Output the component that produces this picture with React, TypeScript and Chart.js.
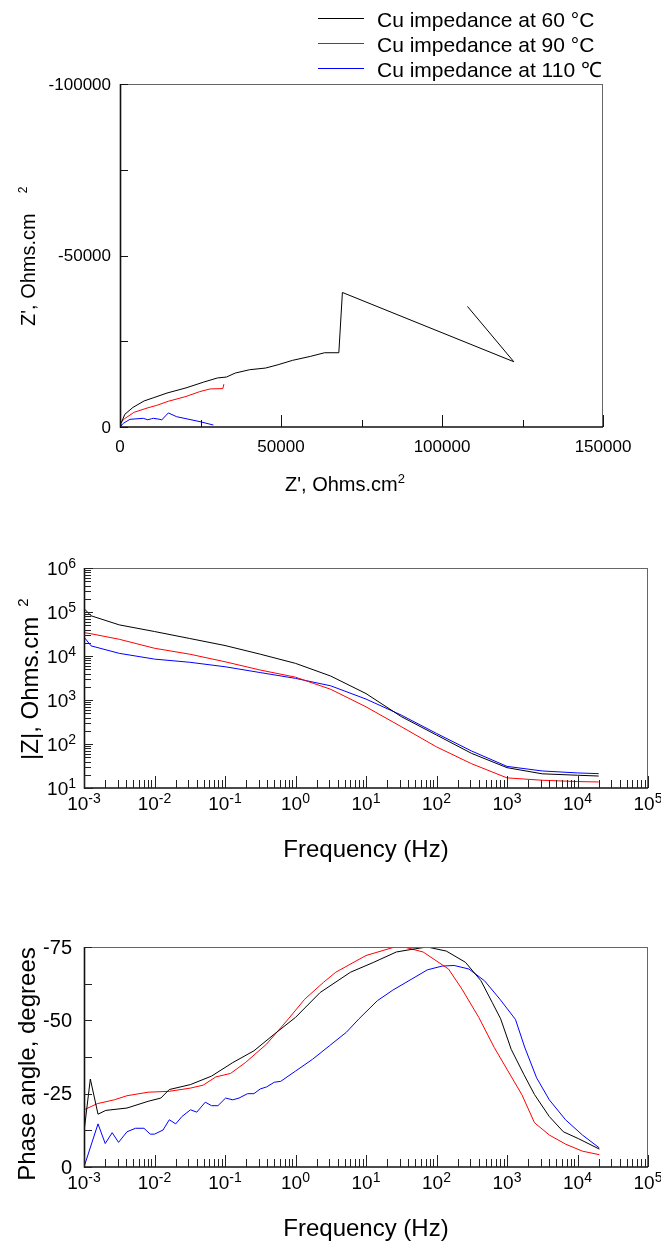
import { useEffect, useRef } from 'react';
import { Chart, registerables } from 'chart.js';
Chart.register(...registerables);

const FONT = '"Liberation Sans", Arial, Helvetica, sans-serif';
const PAGE_W = 661;
const PAGE_H = 1245;

// ---------- legend ----------
const legendLabels = ['Cu impedance at 60 °C', 'Cu impedance at 90 °C', 'Cu impedance at 110 ℃'];
const seriesColors = ['#000000', '#ff0000', '#0000ff'];

// ---------- Nyquist (Z' , Z'') ----------
const nyqRe60 = [50, 300, 1500, 4000, 7500, 10300, 14600, 20500, 26000, 30270, 33040, 35810, 40240, 45230, 49110, 53550, 59090, 63530, 67960, 69070, 122300, 107900];
const nyqIm60 = [-200, -1000, -3700, -5700, -7600, -8500, -9900, -11400, -13100, -14300, -14560, -15730, -16700, -17190, -18160, -19420, -20580, -21650, -21650, -39220, -19030, -35150];
const nyqRe90 = [0, 1440, 4400, 8700, 11420, 15000, 20500, 24720, 28000, 31930, 32260];
const nyqIm90 = [-1100, -2430, -4300, -5600, -6310, -7500, -8900, -10300, -11100, -11200, -12500];
const nyqRe110 = [0, 1040, 3100, 7240, 8650, 9760, 10350, 12420, 12940, 15010, 17600, 24840, 28980];
const nyqIm110 = [0, -1080, -2240, -2530, -2100, -2400, -2530, -2240, -2040, -4100, -3000, -1550, -580];
const nyqXTicks = [0, 50000, 100000, 150000];
const nyqXMinor = [25000, 75000, 125000];
const nyqYTicks = [0, -50000, -100000];
const nyqYMinor = [-25000, -75000];

// ---------- Bode |Z| ----------
const magFreq = [0.001, 0.00126, 0.00316, 0.01, 0.0316, 0.1, 0.316, 1, 3.16, 10, 31.6, 100, 316, 1000, 3160, 10000, 20000];
const mag60 = [120000, 82000, 51000, 36000, 25000, 17300, 11000, 6800, 3500, 1400, 420, 160, 61, 29, 21, 19.5, 18.7];
const mag90 = [34000, 32000, 24000, 15000, 11000, 7400, 4800, 3300, 1750, 700, 248, 86, 35.5, 17, 15, 14, 13.7];
const mag110 = [27000, 17000, 11500, 8500, 7200, 5700, 4200, 3100, 2100, 1050, 455, 174, 69, 31, 24.4, 22, 21.2];
const freqDecades = [-3, -2, -1, 0, 1, 2, 3, 4, 5];
const magDecades = [1, 2, 3, 4, 5, 6];

// ---------- Bode phase ----------
const phFreq60 = [0.001, 0.00123, 0.00158, 0.00204, 0.00407, 0.00813, 0.0123, 0.0162, 0.0324, 0.0646, 0.129, 0.257, 0.501, 1, 2.24, 6.03, 12.9, 26.9, 50.1, 74.1, 138, 257, 427, 617, 813, 1148, 1738, 2455, 3981, 6310, 10233, 20417];
const phase60 = [-12, -30, -18, -19.3, -20.1, -22.4, -23.5, -26.4, -28.1, -31.0, -35.6, -39.6, -45.3, -51, -59.5, -66.4, -69.8, -73.3, -74.4, -75, -73.6, -69.8, -63.5, -56.1, -50.5, -40.1, -31.5, -24.7, -17.2, -12.0, -9.7, -6.1];
const phFreq90 = [0.001, 0.00155, 0.00269, 0.00407, 0.00813, 0.0162, 0.0324, 0.049, 0.0741, 0.12, 0.195, 0.389, 0.794, 1.35, 2.51, 3.72, 10, 24, 34.7, 64.6, 148, 229, 398, 661, 1000, 1622, 2455, 3981, 6761, 11749, 20417];
const phase90 = [-19.5, -21.6, -22.9, -24.3, -25.5, -25.8, -26.9, -27.9, -30.7, -31.9, -35.6, -41.9, -50.5, -57.2, -63, -66.4, -72.1, -74.8, -75, -73.3, -67.5, -60.7, -51, -40.7, -33.3, -24.7, -15.1, -10.9, -7.8, -5.4, -4.2];
const phFreq110 = [0.001, 0.00158, 0.002, 0.00251, 0.00309, 0.00407, 0.00537, 0.00708, 0.00871, 0.01, 0.0132, 0.0162, 0.02, 0.0245, 0.0324, 0.0398, 0.0525, 0.0646, 0.0794, 0.102, 0.129, 0.158, 0.209, 0.257, 0.316, 0.389, 0.501, 0.617, 1, 1.74, 3.02, 5.25, 7.94, 14.5, 24, 44.7, 74.1, 120, 178, 288, 479, 794, 1318, 1778, 2630, 3981, 6761, 11749, 20417];
const phase110 = [0, -14.7, -8.0, -11.7, -8.4, -12.0, -13.2, -13.2, -11.2, -11.2, -12.6, -16.1, -14.7, -17.2, -19.5, -18.7, -22.1, -20.9, -20.9, -23.5, -22.9, -23.5, -25.0, -25.0, -26.6, -27.3, -28.9, -29.2, -32.7, -36.7, -41.3, -45.9, -50.5, -56.7, -60.3, -64.1, -67.2, -68.5, -68.7, -67.5, -63.5, -57.2, -50.3, -40.9, -30.4, -22.9, -16.1, -10.9, -6.5];
const phaseTicks = [0, -25, -50, -75];
const phaseMinor = [-12.5, -37.5, -62.5];

// ---------- helpers ----------
const pts = (xs: number[], ys: number[]) => xs.map((x, i) => ({ x, y: ys[i] }));
const ds = (xs: number[], ys: number[], i: number) => ({
  data: pts(xs, ys),
  borderColor: seriesColors[i],
  backgroundColor: seriesColors[i],
  borderWidth: 1,
  pointRadius: 0,
  showLine: true,
  tension: 0,
});

type Area = { left: number; top: number; right: number; bottom: number };

function frame(ctx: CanvasRenderingContext2D, a: Area) {
  ctx.save();
  ctx.strokeStyle = '#666';
  ctx.lineWidth = 1;
  ctx.beginPath();
  ctx.moveTo(a.left, a.top + 0.5);
  ctx.lineTo(a.right, a.top + 0.5);
  ctx.moveTo(a.right - 0.5, a.top);
  ctx.lineTo(a.right - 0.5, a.bottom);
  ctx.stroke();
  ctx.strokeStyle = '#111';
  ctx.lineWidth = 1.6;
  ctx.beginPath();
  ctx.moveTo(a.left + 0.5, a.top);
  ctx.lineTo(a.left + 0.5, a.bottom);
  ctx.lineTo(a.right, a.bottom);
  ctx.stroke();
  ctx.restore();
}

function xTick(ctx: CanvasRenderingContext2D, x: number, a: Area, len: number) {
  ctx.beginPath();
  ctx.moveTo(Math.round(x) + 0.5, a.bottom);
  ctx.lineTo(Math.round(x) + 0.5, a.bottom - len);
  ctx.stroke();
}
function yTick(ctx: CanvasRenderingContext2D, y: number, a: Area, len: number) {
  ctx.beginPath();
  ctx.moveTo(a.left, Math.round(y) + 0.5);
  ctx.lineTo(a.left + len, Math.round(y) + 0.5);
  ctx.stroke();
}

// "10" with exponent; align: 'center' or 'right'
function powLabel(ctx: CanvasRenderingContext2D, exp: number, x: number, baseY: number, align: 'center' | 'right') {
  const base = '10';
  const e = String(exp);
  ctx.font = `19px ${FONT}`;
  const wb = ctx.measureText(base).width;
  ctx.font = `14px ${FONT}`;
  const we = ctx.measureText(e).width;
  const total = wb + we;
  const x0 = align === 'center' ? x - total / 2 : x - total;
  ctx.textAlign = 'left';
  ctx.textBaseline = 'alphabetic';
  ctx.font = `19px ${FONT}`;
  ctx.fillText(base, x0, baseY);
  ctx.font = `14px ${FONT}`;
  ctx.fillText(e, x0 + wb, baseY - 7);
}

// rotated title: main text + superscript, reading upward, starting at yStart (bottom)
function rotTitle(ctx: CanvasRenderingContext2D, text: string, sup: string, size: number, baseX: number, yStart: number, gap: number) {
  ctx.save();
  ctx.translate(baseX, yStart);
  ctx.rotate(-Math.PI / 2);
  ctx.textAlign = 'left';
  ctx.textBaseline = 'alphabetic';
  ctx.font = `${size}px ${FONT}`;
  ctx.fillText(text, 0, 0);
  const w = ctx.measureText(text).width;
  if (sup) {
    ctx.font = `${Math.round(size * 0.62)}px ${FONT}`;
    ctx.fillText(sup, w + gap, -size * 0.42);
  }
  ctx.restore();
}

function logMinor(decs: number[]) {
  const out: number[] = [];
  for (let i = 0; i < decs.length - 1; i++) {
    for (let k = 2; k <= 9; k++) out.push(k * Math.pow(10, decs[i]));
  }
  return out;
}

// ---------- per-chart decoration plugins ----------
const nyquistDeco = {
  id: 'nyqDeco',
  afterDraw(chart: any) {
    const ctx: CanvasRenderingContext2D = chart.ctx;
    const a = chart.chartArea as Area;
    const xs = chart.scales.x, ys = chart.scales.y;
    frame(ctx, a);
    ctx.save();
    ctx.strokeStyle = '#111';
    ctx.lineWidth = 1;
    nyqXTicks.forEach((v) => xTick(ctx, xs.getPixelForValue(v), a, 12));
    nyqXMinor.forEach((v) => xTick(ctx, xs.getPixelForValue(v), a, 7));
    nyqYTicks.forEach((v) => yTick(ctx, ys.getPixelForValue(v), a, 8));
    nyqYMinor.forEach((v) => yTick(ctx, ys.getPixelForValue(v), a, 8));
    ctx.fillStyle = '#000';
    ctx.font = `17px ${FONT}`;
    ctx.textAlign = 'center';
    ctx.textBaseline = 'alphabetic';
    nyqXTicks.forEach((v) => ctx.fillText(String(v), xs.getPixelForValue(v), a.bottom + 25));
    ctx.textAlign = 'right';
    ctx.textBaseline = 'middle';
    nyqYTicks.forEach((v) => ctx.fillText(String(v), a.left - 9, ys.getPixelForValue(v) + 1));
    // x title
    ctx.textAlign = 'left';
    ctx.textBaseline = 'alphabetic';
    ctx.font = `20px ${FONT}`;
    const t = "Z', Ohms.cm";
    ctx.fillText(t, 285, a.bottom + 64);
    const tw = ctx.measureText(t).width;
    ctx.font = `13px ${FONT}`;
    ctx.fillText('2', 285 + tw, a.bottom + 56);
    // y title
    rotTitle(ctx, "Z', Ohms.cm", '2', 20, 35, 326, 20);
    // legend
    legendLabels.forEach((lab, i) => {
      const y = 18.5 + i * 25;
      ctx.strokeStyle = seriesColors[i];
      ctx.lineWidth = 1;
      ctx.beginPath();
      ctx.moveTo(318, y);
      ctx.lineTo(364, y);
      ctx.stroke();
      ctx.fillStyle = '#000';
      ctx.font = `21px ${FONT}`;
      ctx.textAlign = 'left';
      ctx.textBaseline = 'alphabetic';
      ctx.fillText(lab, 377, 26.5 + i * 25);
    });
    ctx.restore();
  },
};

function freqAxisDeco(ctx: CanvasRenderingContext2D, chart: any, a: Area) {
  const xs = chart.scales.x;
  ctx.strokeStyle = '#222';
  ctx.lineWidth = 1;
  freqDecades.forEach((d) => xTick(ctx, xs.getPixelForValue(Math.pow(10, d)), a, 12));
  logMinor(freqDecades).forEach((v) => xTick(ctx, xs.getPixelForValue(v), a, 8));
  ctx.fillStyle = '#000';
  freqDecades.forEach((d) => powLabel(ctx, d, xs.getPixelForValue(Math.pow(10, d)), a.bottom + 22, 'center'));
  ctx.font = `24px ${FONT}`;
  ctx.textAlign = 'center';
  ctx.textBaseline = 'alphabetic';
  ctx.fillText('Frequency (Hz)', (a.left + a.right) / 2, a.bottom + 69);
}

const magDeco = {
  id: 'magDeco',
  afterDraw(chart: any) {
    const ctx: CanvasRenderingContext2D = chart.ctx;
    const a = chart.chartArea as Area;
    const ys = chart.scales.y;
    frame(ctx, a);
    ctx.save();
    freqAxisDeco(ctx, chart, a);
    ctx.strokeStyle = '#222';
    magDecades.forEach((d) => yTick(ctx, ys.getPixelForValue(Math.pow(10, d)), a, 9));
    logMinor(magDecades).forEach((v) => yTick(ctx, ys.getPixelForValue(v), a, 7));
    ctx.fillStyle = '#000';
    magDecades.forEach((d) => powLabel(ctx, d, 76, ys.getPixelForValue(Math.pow(10, d)) + 7, 'right'));
    rotTitle(ctx, '|Z|, Ohms.cm', '2', 24, 38, 760, 10);
    ctx.restore();
  },
};

const phaseDeco = {
  id: 'phaseDeco',
  afterDraw(chart: any) {
    const ctx: CanvasRenderingContext2D = chart.ctx;
    const a = chart.chartArea as Area;
    const ys = chart.scales.y;
    frame(ctx, a);
    ctx.save();
    freqAxisDeco(ctx, chart, a);
    ctx.strokeStyle = '#222';
    phaseTicks.forEach((v) => yTick(ctx, ys.getPixelForValue(v), a, 8));
    phaseMinor.forEach((v) => yTick(ctx, ys.getPixelForValue(v), a, 8));
    ctx.fillStyle = '#000';
    ctx.font = `20px ${FONT}`;
    ctx.textAlign = 'right';
    ctx.textBaseline = 'middle';
    phaseTicks.forEach((v) => ctx.fillText(String(v), 72, ys.getPixelForValue(v) + 1));
    ctx.save();
    ctx.translate(35, 1064);
    ctx.rotate(-Math.PI / 2);
    ctx.font = `24px ${FONT}`;
    ctx.textAlign = 'center';
    ctx.textBaseline = 'alphabetic';
    ctx.fillText('Phase angle, degrees', 0, 0);
    ctx.restore();
    ctx.restore();
  },
};

function baseOptions(pad: { left: number; top: number; right: number; bottom: number }, x: any, y: any) {
  return {
    animation: false as const,
    responsive: false,
    devicePixelRatio: 1,
    events: [] as any[],
    layout: { padding: pad },
    plugins: { legend: { display: false }, tooltip: { enabled: false }, title: { display: false } },
    scales: { x: { ...x, display: false }, y: { ...y, display: false } },
  };
}

export default function App() {
  const r1 = useRef<HTMLCanvasElement>(null);
  const r2 = useRef<HTMLCanvasElement>(null);
  const r3 = useRef<HTMLCanvasElement>(null);

  useEffect(() => {
    const charts: Chart[] = [];
    // Nyquist: area left 120, top 84, right 603, bottom 427
    charts.push(
      new Chart(r1.current!, {
        type: 'scatter',
        data: { datasets: [ds(nyqRe60, nyqIm60, 0), ds(nyqRe90, nyqIm90, 1), ds(nyqRe110, nyqIm110, 2)] as any },
        options: baseOptions(
          { left: 120, top: 84, right: PAGE_W - 603, bottom: PAGE_H - 427 },
          { type: 'linear', min: 0, max: 150000 },
          { type: 'linear', min: -100000, max: 0, reverse: true }
        ) as any,
        plugins: [nyquistDeco],
      })
    );
    // Bode magnitude: left 84, top 568, right 648, bottom 788
    charts.push(
      new Chart(r2.current!, {
        type: 'scatter',
        data: { datasets: [ds(magFreq, mag60, 0), ds(magFreq, mag90, 1), ds(magFreq, mag110, 2)] as any },
        options: baseOptions(
          { left: 84, top: 568, right: PAGE_W - 648, bottom: PAGE_H - 788 },
          { type: 'logarithmic', min: 0.001, max: 100000 },
          { type: 'logarithmic', min: 10, max: 1000000 }
        ) as any,
        plugins: [magDeco],
      })
    );
    // Bode phase: left 84, top 947, right 648, bottom 1167
    charts.push(
      new Chart(r3.current!, {
        type: 'scatter',
        data: { datasets: [ds(phFreq60, phase60, 0), ds(phFreq90, phase90, 1), ds(phFreq110, phase110, 2)] as any },
        options: baseOptions(
          { left: 84, top: 947, right: PAGE_W - 648, bottom: PAGE_H - 1167 },
          { type: 'logarithmic', min: 0.001, max: 100000 },
          { type: 'linear', min: -75, max: 0, reverse: true }
        ) as any,
        plugins: [phaseDeco],
      })
    );
    return () => charts.forEach((c) => c.destroy());
  }, []);

  const cs: any = { position: 'absolute', left: 0, top: 0, width: PAGE_W, height: PAGE_H };
  return (
    <div style={{ position: 'absolute', left: 0, top: 0, width: PAGE_W, height: PAGE_H, background: '#fff' }}>
      <canvas ref={r1} width={PAGE_W} height={PAGE_H} style={cs} />
      <canvas ref={r2} width={PAGE_W} height={PAGE_H} style={cs} />
      <canvas ref={r3} width={PAGE_W} height={PAGE_H} style={cs} />
    </div>
  );
}
